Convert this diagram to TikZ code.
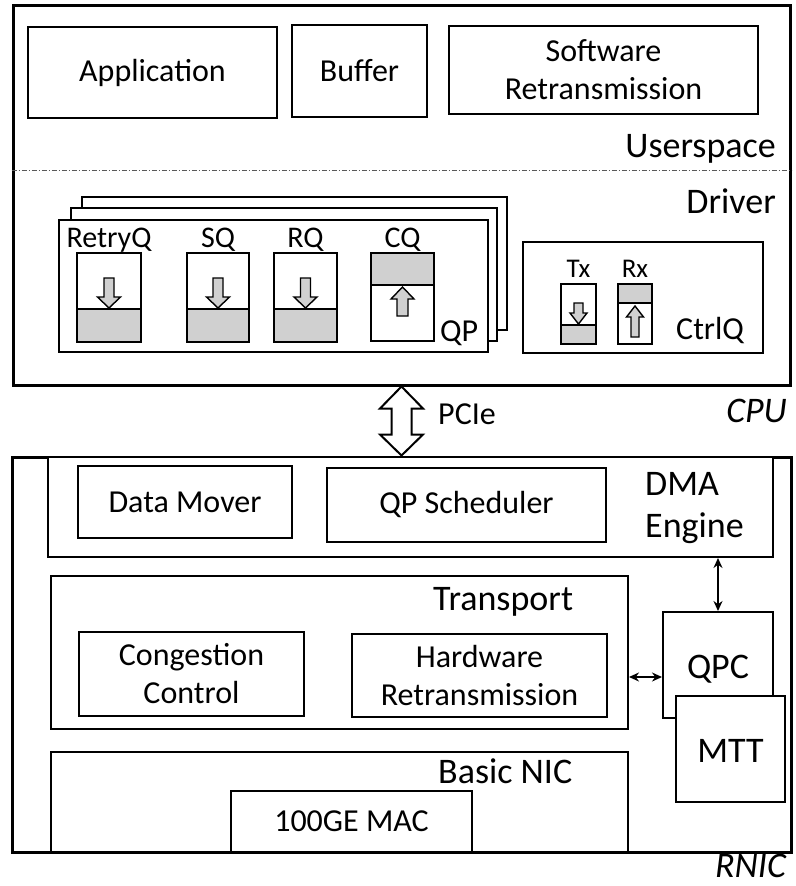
\documentclass[tikz,border=0pt]{standalone}
\usepackage{fontspec}
\setmainfont{Carlito}
\usetikzlibrary{fit,calc,arrows.meta}

\definecolor{qgray}{HTML}{D0D0D0}

\tikzset{
  outer/.style={draw, line width=3pt, inner sep=0pt},
  box/.style={draw, line width=2pt, inner sep=0pt, fill=white},
  sheet/.style={draw, line width=2pt, fill=white},
  qbox/.style={draw, line width=2pt},
  divider/.style={line width=1.6pt},
  blk/.style={draw, line width=1.4pt, fill=qgray, line join=miter},
  txt/.style={font=\fontsize{32}{38}\selectfont, inner sep=0pt, align=center},
  sec/.style={font=\fontsize{36}{41}\selectfont, inner sep=0pt},
  qlbl/.style={font=\fontsize{30}{34}\selectfont, inner sep=0pt, anchor=base},
  slbl/.style={font=\fontsize{27}{30}\selectfont, inner sep=0pt, anchor=base},
  host/.style={font=\fontsize{36}{41}\selectfont\itshape, inner sep=0pt, anchor=base east},
  link/.style={line width=1.5pt, {Stealth[length=10pt,width=9pt]}-{Stealth[length=10pt,width=9pt]}},
  bus/.style={draw, line width=2pt, fill=white, line join=miter},
  sepline/.style={line width=0.8pt, gray!70!black, dash pattern=on 5pt off 2pt on 1pt off 2pt}
}

% block arrow inside a queue: centre x, shaft end y, head base y, tip y,
% head half width, shaft half width
\newcommand\qarrow[6]{%
  \draw[blk] ({#1-#6},#2) -- ({#1-#6},#3) -- ({#1-#5},#3) -- (#1,#4)
    -- ({#1+#5},#3) -- ({#1+#6},#3) -- ({#1+#6},#2) -- cycle;}

\begin{document}
\begin{tikzpicture}[x=1pt,y=-1pt]
\useasboundingbox (0,0) rectangle (795,886);

% ---------------- CPU ----------------
\node[outer, fit={(13,5) (790,385)}] (cpu) {};

\node[box, fit={(28,27) (277,118)}] (app) {};
\node[txt] at (app.center) {Application};
\node[box, fit={(292,25) (427,117)}] (buf) {};
\node[txt] at (buf.center) {Buffer};
\node[box, fit={(449,26) (758,114)}] (swrt) {};
\node[txt] at (swrt.center) {Software\\Retransmission};

\node[sec, anchor=base east] (user) at (776,157) {Userspace};
\draw[sepline] (cpu.west |- 0,170) -- (cpu.east |- 0,170);
\node[sec, anchor=base east] (drv) at (776,213) {Driver};

% stacked queue pairs
\node[sheet, inner sep=0pt, fit={(82,197) (507,330)}] (qp3) {};
\node[sheet, inner sep=0pt, fit={(71,208) (497,341)}] (qp2) {};
\node[sheet, inner sep=0pt, fit={(59,220) (488,352)}] (qp) {};
\node[font=\fontsize{32}{36}\selectfont, inner sep=0pt, anchor=base west] at (440,341) {QP};

% RetryQ
\fill[qgray] (77,309) rectangle (141,342);
\node[qbox, inner sep=0pt, fit={(77,253) (141,342)}] (retryq) {};
\draw[divider] (retryq.west |- 0,309) -- (retryq.east |- 0,309);
\qarrow{109}{278}{297}{308}{11.5}{5}
\node[qlbl] at (retryq.north |- 0,247) {RetryQ};

% SQ
\fill[qgray] (187,309) rectangle (249,342);
\node[qbox, inner sep=0pt, fit={(187,253) (249,342)}] (sq) {};
\draw[divider] (sq.west |- 0,309) -- (sq.east |- 0,309);
\qarrow{218}{278}{297}{308}{11.5}{5}
\node[qlbl] at (sq.north |- 0,247) {SQ};

% RQ
\fill[qgray] (274,309) rectangle (337,342);
\node[qbox, inner sep=0pt, fit={(274,253) (337,342)}] (rq) {};
\draw[divider] (rq.west |- 0,309) -- (rq.east |- 0,309);
\qarrow{305.5}{278}{297}{308}{11.5}{5}
\node[qlbl] at (rq.north |- 0,247) {RQ};

% CQ
\fill[qgray] (371,253) rectangle (434,285);
\node[qbox, inner sep=0pt, fit={(371,253) (434,341)}] (cq) {};
\draw[divider] (cq.west |- 0,285) -- (cq.east |- 0,285);
\qarrow{402.5}{316}{299}{287}{11.5}{5.5}
\node[qlbl] at (cq.north |- 0,247) {CQ};

% control queues
\node[box, fit={(523,242) (763,353)}] (ctrl) {};
\node[font=\fontsize{32}{36}\selectfont, inner sep=0pt, anchor=base west] at (676,339) {CtrlQ};

\fill[qgray] (561,325) rectangle (596,344);
\node[qbox, inner sep=0pt, fit={(561,284) (596,344)}] (tx) {};
\draw[divider] (tx.west |- 0,325) -- (tx.east |- 0,325);
\qarrow{578.5}{303}{313}{324}{8.5}{4.5}
\node[slbl] at (tx.north |- 0,277) {Tx};

\fill[qgray] (618,284) rectangle (652,303);
\node[qbox, inner sep=0pt, fit={(618,284) (652,344)}] (rx) {};
\draw[divider] (rx.west |- 0,303) -- (rx.east |- 0,303);
\qarrow{635}{337}{317}{306}{8.5}{4}
\node[slbl] at (rx.north |- 0,277) {Rx};

\node[host] (cpulbl) at (787,422) {CPU};

% ---------------- RNIC ----------------
\node[outer, fit={(12,457) (791,852)}] (rnic) {};

% PCIe link between host and NIC
\coordinate (pt) at (cpu.south);
\coordinate (pb) at (rnic.north);
\draw[bus] (pt) -- ($(pt)+(21.5,22)$) -- ($(pt)+(10,22)$) -- ($(pb)+(10,-21)$)
  -- ($(pb)+(21.5,-21)$) -- (pb) -- ($(pb)+(-21.5,-21)$) -- ($(pb)+(-10,-21)$)
  -- ($(pt)+(-10,22)$) -- ($(pt)+(-21.5,22)$) -- cycle;
\node[font=\fontsize{32}{36}\selectfont, inner sep=0pt, anchor=base west] at (438,424) {PCIe};

% DMA engine
\node[box, fit={(48,457) (773,557)}] (dma) {};
\node[box, fit={(78,466) (292,538)}] (mover) {};
\node[txt] at (mover.center) {Data Mover};
\node[box, fit={(327,468) (606,542)}] (sched) {};
\node[txt] at (sched.center) {QP Scheduler};
\node[sec, anchor=base west] at (645,495) {DMA};
\node[sec, anchor=base west] at (645,537) {Engine};

% transport
\node[box, fit={(51,576) (628,729)}] (transport) {};
\node[sec, anchor=base west] at (433,610) {Transport};
\node[box, fit={(79,632) (304,716)}] (cc) {};
\node[txt] at (cc.center) {Congestion\\Control};
\node[box, fit={(352,634) (607,717)}] (hwrt) {};
\node[txt] at (hwrt.center) {Hardware\\Retransmission};

% basic NIC
\node[box, fit={(51,752) (628,852)}] (basic) {};
\node[sec, anchor=base west] at (438,783) {Basic NIC};
\node[box, fit={(231,791) (472,852)}] (mac) {};
\node[txt] at (mac.center) {100GE MAC};

% context caches
\node[box, fit={(663,612) (773,718)}] (qpc) {};
\node[sec, anchor=base] at (qpc.center |- 0,678) {QPC};
\node[box, fit={(676,696) (785,802)}] (mtt) {};
\node[sec, anchor=base] at (mtt.center |- 0,762) {MTT};

\draw[link] (dma.south -| qpc.north) -- (qpc.north);
\coordinate (qa) at ($(qpc.west)+(0,12)$);
\draw[link] (qa -| transport.east) -- (qa);

\node[host] (niclbl) at (786,877) {RNIC};
\end{tikzpicture}
\end{document}
